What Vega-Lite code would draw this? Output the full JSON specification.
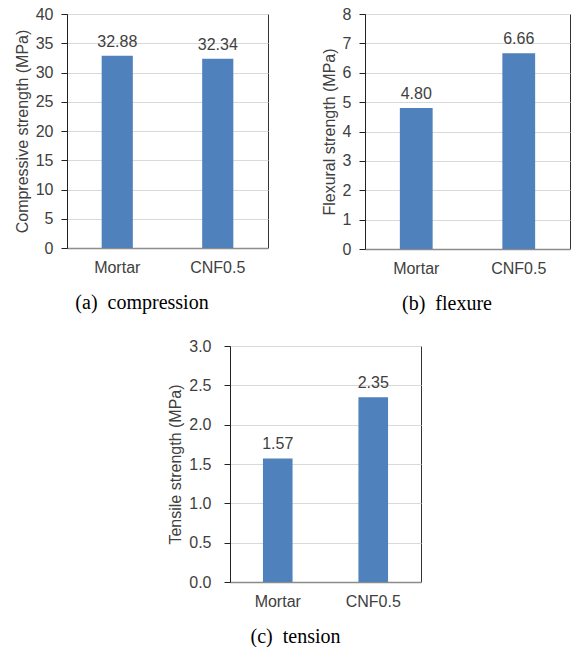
{
  "$schema": "https://vega.github.io/schema/vega-lite/v6.json",
  "padding": {"left": 13, "top": 5, "right": 5, "bottom": 5},
  "background": "white",
  "datasets": {
    "comp": [{"mix": "Mortar", "value": 32.88}, {"mix": "CNF0.5", "value": 32.34}],
    "flex": [{"mix": "Mortar", "value": 4.80}, {"mix": "CNF0.5", "value": 6.66}],
    "tens": [{"mix": "Mortar", "value": 1.57}, {"mix": "CNF0.5", "value": 2.35}]
  },
  "spacing": 23,
  "center": false,
  "vconcat": [
    {
      "spacing": 51,
      "hconcat": [
        {
          "width": 201, "height": 234,
          "data": {"name": "comp"},
          "encoding": {
            "x": {"field": "mix", "type": "nominal", "sort": null, "scale": {"paddingInner": 0.69, "paddingOuter": 0.345}, "axis": {"title": "(a)\u00a0 compression", "titleX": 74.5}},
            "y": {"field": "value", "type": "quantitative", "scale": {"domain": [0, 40]}, "axis": {"values": [0, 5, 10, 15, 20, 25, 30, 35, 40], "title": "Compressive strength (MPa)"}}
          },
          "layer": [
            {"mark": {"type": "bar", "color": "#4f81bd"}},
            {"mark": {"type": "text", "dy": -9, "baseline": "alphabetic", "font": "Liberation Sans", "fontSize": 16, "color": "#404040"}, "encoding": {"text": {"field": "value", "type": "quantitative", "format": ".2f"}}}
          ]
        },
        {
          "width": 205, "height": 235,
          "data": {"name": "flex"},
          "encoding": {
            "x": {"field": "mix", "type": "nominal", "sort": null, "scale": {"paddingInner": 0.68, "paddingOuter": 0.34}, "axis": {"title": "(b)\u00a0 flexure", "titleX": 81.5}},
            "y": {"field": "value", "type": "quantitative", "scale": {"domain": [0, 8]}, "axis": {"values": [0, 1, 2, 3, 4, 5, 6, 7, 8], "title": "Flexural strength (MPa)"}}
          },
          "layer": [
            {"mark": {"type": "bar", "color": "#4f81bd"}},
            {"mark": {"type": "text", "dy": -9, "baseline": "alphabetic", "font": "Liberation Sans", "fontSize": 16, "color": "#404040"}, "encoding": {"text": {"field": "value", "type": "quantitative", "format": ".2f"}}}
          ]
        }
      ]
    },
    {
      "spacing": 99,
      "hconcat": [
        {
          "width": 1, "height": 10,
          "view": {"stroke": null},
          "data": {"values": []},
          "mark": {"type": "point", "opacity": 0}
        },
        {
          "width": 191, "height": 236,
          "data": {"name": "tens"},
          "encoding": {
            "x": {"field": "mix", "type": "nominal", "sort": null, "scale": {"paddingInner": 0.69, "paddingOuter": 0.345}, "axis": {"title": "(c)\u00a0 tension", "titleX": 65}},
            "y": {"field": "value", "type": "quantitative", "scale": {"domain": [0, 3]}, "axis": {"values": [0, 0.5, 1, 1.5, 2, 2.5, 3], "format": ".1f", "labelPadding": 13, "title": "Tensile strength (MPa)"}}
          },
          "layer": [
            {"mark": {"type": "bar", "color": "#4f81bd"}},
            {"mark": {"type": "text", "dy": -9, "baseline": "alphabetic", "font": "Liberation Sans", "fontSize": 16, "color": "#404040"}, "encoding": {"text": {"field": "value", "type": "quantitative", "format": ".2f"}}}
          ]
        }
      ]
    }
  ],
  "config": {
    "view": {"stroke": "#333333", "strokeWidth": 1},
    "axis": {
      "labelFont": "Liberation Sans", "labelFontSize": 16, "labelColor": "#404040",
      "titleFont": "Liberation Sans", "titleFontSize": 16, "titleFontWeight": "normal", "titleColor": "#404040",
      "gridColor": "#d9d9d9", "gridWidth": 1
    },
    "axisY": {"domainColor": "#222222", "tickColor": "#222222", "tickSize": 6, "labelPadding": 8, "titlePadding": 5, "grid": true},
    "axisX": {"domainColor": "#8c8c8c", "domainWidth": 1.5, "ticks": false, "labelPadding": 11, "labelAngle": 0, "titleFont": "Liberation Serif", "titleFontSize": 20, "titleColor": "#000000", "titlePadding": 17, "titleAlign": "center", "titleAnchor": null, "grid": false}
  }
}
